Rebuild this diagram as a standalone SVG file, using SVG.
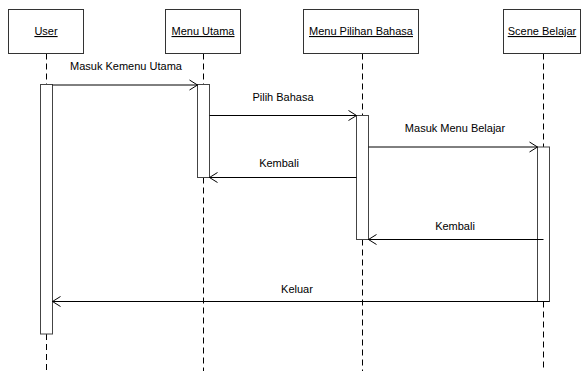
<svg xmlns="http://www.w3.org/2000/svg" width="582" height="371" viewBox="0 0 582 371">
  <style>
    .box { fill: #ffffff; stroke: #333333; stroke-width: 1; }
    .bar { fill: #ffffff; stroke: #444444; stroke-width: 1; }
    .life { stroke: #000000; stroke-width: 1; stroke-dasharray: 6 4; fill: none; }
    .msg { stroke: #000000; stroke-width: 1; fill: none; marker-end: url(#open); }
    .name { font-family: "Liberation Sans", Arial, sans-serif; font-size: 11px; fill: #000000; text-anchor: middle; text-decoration: underline; }
    .lbl { font-family: "Liberation Sans", Arial, sans-serif; font-size: 11px; fill: #000000; text-anchor: middle; }
  </style>
  <defs>
    <marker id="open" markerWidth="10" markerHeight="12" refX="9" refY="6" orient="auto" markerUnits="userSpaceOnUse">
      <path d="M1,1 L9,6 L1,11" fill="none" stroke="#000000" stroke-width="1"/>
    </marker>
  </defs>
  <rect width="582" height="371" fill="#ffffff"/>

  <!-- lifelines (dashed) -->
  <g id="lifelines">
    <line class="life" x1="46.5" y1="53.5" x2="46.5" y2="84.5"/>
    <line class="life" x1="46.5" y1="334" x2="46.5" y2="371"/>
    <line class="life" x1="203.5" y1="53.5" x2="203.5" y2="84.5"/>
    <line class="life" x1="203.5" y1="177.5" x2="203.5" y2="371"/>
    <line class="life" x1="362.5" y1="53.5" x2="362.5" y2="115.5"/>
    <line class="life" x1="362.5" y1="239.5" x2="362.5" y2="371"/>
    <line class="life" x1="543.5" y1="53.5" x2="543.5" y2="147"/>
    <line class="life" x1="543.5" y1="301.5" x2="543.5" y2="371"/>
  </g>

  <!-- participants -->
  <g id="user">
    <rect class="box" x="8.5" y="9.5" width="75" height="44"/>
    <text class="name" x="46" y="35">User</text>
    <rect class="bar" x="40.5" y="84.5" width="12" height="249.5"/>
  </g>
  <g id="menu-utama">
    <rect class="box" x="165.5" y="9.5" width="75" height="44"/>
    <text class="name" x="203" y="35">Menu Utama</text>
    <rect class="bar" x="197.5" y="84.5" width="12" height="93"/>
  </g>
  <g id="menu-pilihan-bahasa">
    <rect class="box" x="303.5" y="9.5" width="115" height="44"/>
    <text class="name" x="361" y="35">Menu Pilihan Bahasa</text>
    <rect class="bar" x="356.5" y="115.5" width="12" height="124"/>
  </g>
  <g id="scene-belajar">
    <rect class="box" x="503.5" y="9.5" width="77" height="44"/>
    <text class="name" x="542" y="35">Scene Belajar</text>
    <rect class="bar" x="537.5" y="147" width="12" height="154.5"/>
  </g>

  <!-- messages -->
  <g id="connectors">
    <line class="msg" x1="52.5" y1="85" x2="197.5" y2="85"/>
    <text class="lbl" x="126" y="70">Masuk Kemenu Utama</text>

    <line class="msg" x1="209.5" y1="115.5" x2="356.5" y2="115.5"/>
    <text class="lbl" x="283" y="101">Pilih Bahasa</text>

    <line class="msg" x1="368.5" y1="147" x2="537.5" y2="147"/>
    <text class="lbl" x="455" y="132">Masuk Menu Belajar</text>

    <line class="msg" x1="356.5" y1="177.5" x2="209.5" y2="177.5"/>
    <text class="lbl" x="279" y="167">Kembali</text>

    <line class="msg" x1="543.5" y1="239.5" x2="368.5" y2="239.5"/>
    <text class="lbl" x="455" y="230">Kembali</text>

    <line class="msg" x1="549.5" y1="301.5" x2="52.5" y2="301.5"/>
    <text class="lbl" x="297" y="293">Keluar</text>
  </g>
</svg>
